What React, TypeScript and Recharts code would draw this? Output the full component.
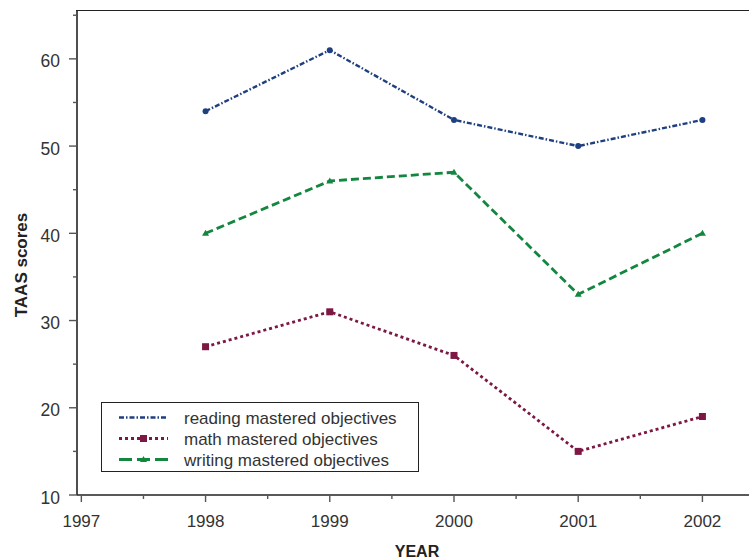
import React from 'react';
import { LineChart, Line, XAxis, YAxis } from 'recharts';

const years = [1998, 1999, 2000, 2001, 2002];
const reading = [54, 61, 53, 50, 53];
const math = [27, 31, 26, 15, 19];
const writing = [40, 46, 47, 33, 40];
const xTicks = [1997, 1997.5, 1998, 1998.5, 1999, 1999.5, 2000, 2000.5, 2001, 2001.5, 2002];
const yTicks = [10, 15, 20, 25, 30, 35, 40, 45, 50, 55, 60, 65];

const data = years.map((y, i) => ({ year: y, reading: reading[i], math: math[i], writing: writing[i] }));

const FONT = '"Liberation Sans", Arial, Helvetica, sans-serif';
const BLUE = '#1f3f80';
const MAROON = '#7d1743';
const GREEN = '#13873f';

const series = [
  { key: 'reading', name: 'reading mastered objectives', color: BLUE, dash: '5 2 1.5 2', legendDash: '5 2 1.5 2', width: 2.4, marker: 'circle', legendMarker: false },
  { key: 'math', name: 'math mastered objectives', color: MAROON, dash: '3 3', legendDash: '3 3', width: 2.8, marker: 'square', legendMarker: true },
  { key: 'writing', name: 'writing mastered objectives', color: GREEN, dash: '8 4', legendDash: '13 5', width: 2.8, marker: 'triangle', legendMarker: true },
];

function Marker({ type, cx, cy, color }: any) {
  if (cx == null || cy == null) return null;
  if (type === 'circle') return <circle cx={cx} cy={cy} r={3} fill={color} />;
  if (type === 'square') return <rect x={cx - 3.5} y={cy - 3.5} width={7} height={7} fill={color} />;
  return <polygon points={`${cx},${cy - 3.5} ${cx - 3.5},${cy + 2.5} ${cx + 3.5},${cy + 2.5}`} fill={color} />;
}

const YTick = (props: any) => {
  const { x, y, payload } = props;
  const v = payload.value;
  const major = v % 10 === 0;
  return (
    <g>
      <line x1={x - (major ? 8 : 4)} x2={x} y1={y} y2={y} stroke="#555" strokeWidth={1.4} />
      {major && (
        <text x={x - 17} y={y} dy={8.5} textAnchor="end" fontSize={17.5} fill="#333" fontFamily={FONT}>
          {v}
        </text>
      )}
    </g>
  );
};

const XTick = (props: any) => {
  const { x, y, payload } = props;
  const v = payload.value;
  const major = Number.isInteger(v);
  return (
    <g>
      <line x1={x} x2={x} y1={y} y2={y + (major ? 7 : 4)} stroke="#555" strokeWidth={1.4} />
      {major && (
        <text x={x} y={y + 32} textAnchor="middle" fontSize={17} fill="#333" fontFamily={FONT}>
          {v}
        </text>
      )}
    </g>
  );
};

const LegendBox = () => (
  <div
    style={{
      position: 'absolute',
      left: 101,
      top: 402,
      width: 318,
      height: 70,
      border: '1.5px solid #222',
      background: '#fff',
      boxSizing: 'border-box',
    }}
  >
    <svg width={318} height={70} style={{ position: 'absolute', left: 0, top: 0 }}>
      {series.map((s, i) => {
        const cy = 14.5 + i * 21;
        return (
          <g key={s.key}>
            <line x1={17} x2={66} y1={cy} y2={cy} stroke={s.color} strokeWidth={s.width} strokeDasharray={s.legendDash} />
            {s.legendMarker && <Marker type={s.marker} cx={41.5} cy={cy} color={s.color} />}
            <text x={82} y={cy} dy={6} fontSize={17} fill="#333" fontFamily={FONT}>
              {s.name}
            </text>
          </g>
        );
      })}
    </svg>
  </div>
);

export default function App() {
  return (
    <div style={{ position: 'absolute', left: 0, top: 0, width: 749, height: 559, background: '#fff', overflow: 'hidden' }}>
      <LineChart width={749} height={559} data={data} margin={{ top: 10, right: 0, bottom: 0, left: 0 }}>
        <XAxis
          dataKey="year"
          type="number"
          domain={[1996.965, 2002.375]}
          ticks={xTicks}
          interval={0}
          allowDataOverflow
          height={64}
          tickLine={false}
          tickSize={0}
          tickMargin={0}
          tick={<XTick />}
          axisLine={{ stroke: '#222', strokeWidth: 1.6 }}
        />
        <YAxis
          type="number"
          domain={[10, 65.6]}
          ticks={yTicks}
          interval={0}
          allowDataOverflow
          width={77}
          tickLine={false}
          tickSize={0}
          tickMargin={0}
          tick={<YTick />}
          axisLine={{ stroke: '#222', strokeWidth: 1.6 }}
        />
        {series.map((s) => (
          <Line
            key={s.key}
            dataKey={s.key}
            name={s.name}
            stroke={s.color}
            strokeWidth={s.width}
            strokeDasharray={s.dash}
            isAnimationActive={false}
            dot={(p: any) => <Marker key={`${s.key}-${p.index}`} type={s.marker} cx={p.cx} cy={p.cy} color={s.color} />}
            activeDot={false}
          />
        ))}
      </LineChart>
      <div style={{ position: 'absolute', left: 76, top: 9.5, width: 673, height: 1.6, background: '#222' }} />
      <LegendBox />
      <div
        style={{
          position: 'absolute',
          left: 21.5,
          top: 264.5,
          transform: 'translate(-50%, -50%) rotate(-90deg)',
          fontFamily: FONT,
          fontWeight: 'bold',
          fontSize: 17,
          color: '#222',
          whiteSpace: 'nowrap',
        }}
      >
        TAAS scores
      </div>
      <div
        style={{
          position: 'absolute',
          left: 417,
          top: 552,
          transform: 'translate(-50%, -50%)',
          fontFamily: FONT,
          fontWeight: 'bold',
          fontSize: 16,
          color: '#222',
          whiteSpace: 'nowrap',
        }}
      >
        YEAR
      </div>
    </div>
  );
}
